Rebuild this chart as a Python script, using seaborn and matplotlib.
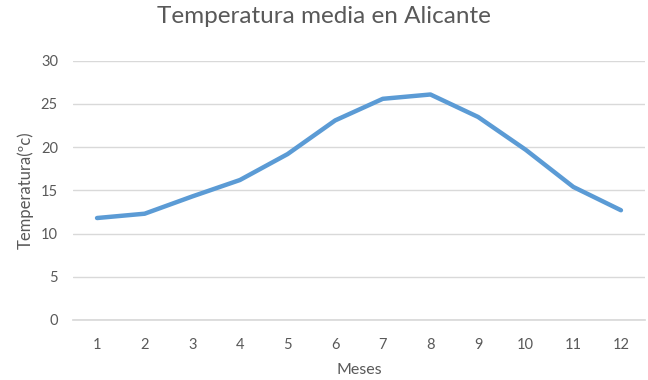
import matplotlib
matplotlib.use("Agg")
import matplotlib.pyplot as plt
import seaborn as sns
import pandas as pd

# Monthly mean temperature in Alicante
meses = [1, 2, 3, 4, 5, 6, 7, 8, 9, 10, 11, 12]
temperatura = [11.8, 12.3, 14.3, 16.2, 19.2, 23.1, 25.6, 26.1, 23.5, 19.7, 15.4, 12.7]
y_ticks = [0, 5, 10, 15, 20, 25, 30]

df = pd.DataFrame({"Meses": meses, "Temperatura": temperatura})

sns.set_theme(style="white")
plt.rcParams["font.family"] = ["Lato", "DejaVu Sans"]

text_color = "#595959"
fig = plt.figure(figsize=(6.48, 3.80), dpi=100)
ax = fig.add_axes([0.113, 0.158, 0.882, 0.682])

sns.lineplot(data=df, x="Meses", y="Temperatura", ax=ax,
             color="#5B9BD5", linewidth=3.2, solid_capstyle="round")

ax.set_xlim(0.5, 12.5)
ax.set_ylim(0, 30)
ax.set_xticks(meses)
ax.set_yticks(y_ticks)
ax.yaxis.grid(True, color="#D9D9D9", linewidth=1.0)
ax.set_axisbelow(True)
for s in ["top", "right", "left"]:
    ax.spines[s].set_visible(False)
ax.spines["bottom"].set_color("#D9D9D9")
ax.tick_params(axis="both", length=0, labelsize=10.5, colors=text_color)
ax.tick_params(axis="x", pad=13)
ax.tick_params(axis="y", pad=11)

ax.set_xlabel("Meses", fontsize=11.5, color=text_color, labelpad=8)
ax.set_ylabel("Temperatura(ºc)", fontsize=12, color=text_color, labelpad=5)
fig.suptitle("Temperatura media en Alicante", fontsize=17.5, color=text_color, y=0.985)

fig.savefig("out.png", dpi=100, facecolor="white")
